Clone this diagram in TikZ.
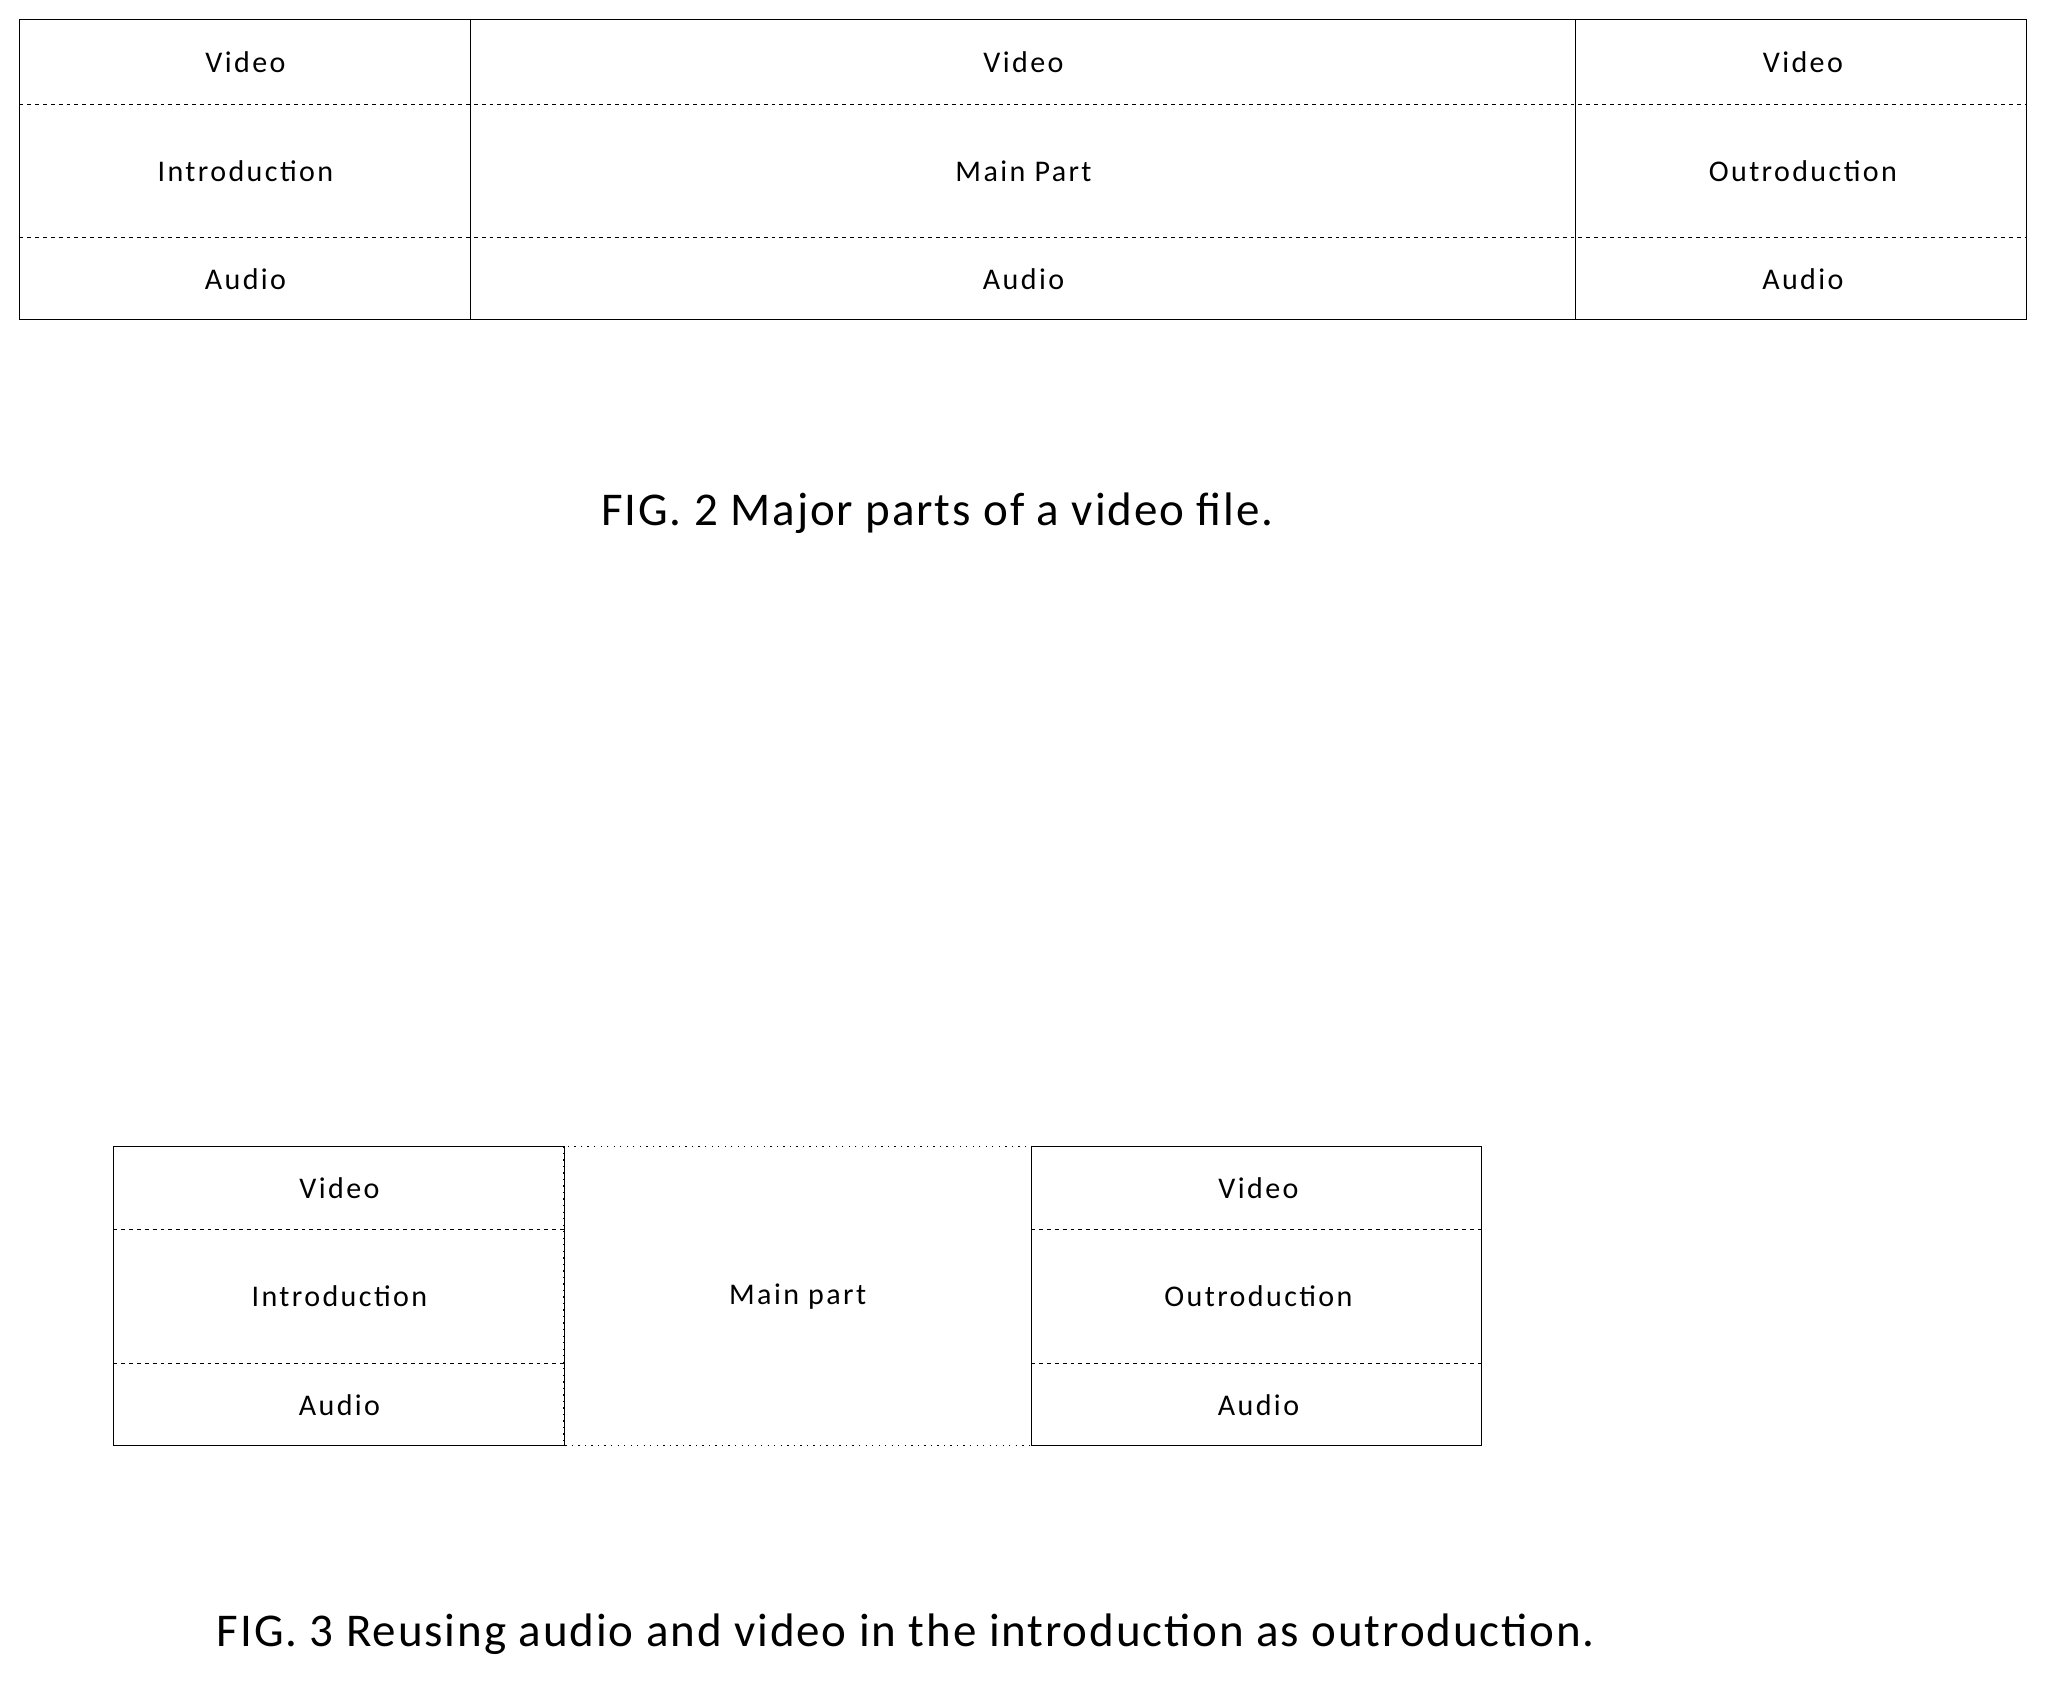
\documentclass[tikz,border=0pt]{standalone}
\usepackage{fontspec}
\setmainfont{Carlito}
\newfontfamily\labfont[LetterSpace=8]{Carlito}
\newfontfamily\capfont[LetterSpace=4]{Carlito}
\begin{document}
\begin{tikzpicture}[x=1pt,y=-1pt,
  frame/.style={draw,line width=0.7pt},
  sep/.style={draw,dashed,line width=0.6pt},
  dotf/.style={draw,line width=0.8pt,dash pattern=on 1pt off 4pt},
  lab/.style={font=\labfont\fontsize{23}{26}\selectfont,inner sep=0},
  figcap/.style={font=\capfont\fontsize{36}{40}\selectfont,inner sep=0}]
\useasboundingbox (0,0) rectangle (1568,1287);
% FIG 2 table
\draw[frame] (15,15) rectangle (1552,245);
\draw[frame] (360,15) -- (360,245);
\draw[frame] (1207,15) -- (1207,245);
\draw[sep] (15,80) -- (1552,80);
\draw[sep] (15,182) -- (1552,182);
\node[lab] (v1) at (188,48) {Video};
\node[lab] (i1) at (188,131) {Introduction};
\node[lab] (a1) at (188,214) {Audio};
\node[lab] (v2) at (784,48) {Video};
\node[lab] (m2) at (784,131) {Main Part};
\node[lab] (a2) at (784,214) {Audio};
\node[lab] (v3) at (1381,48) {Video};
\node[lab] (o3) at (1381,131) {Outroduction};
\node[lab] (a3) at (1381,214) {Audio};
\node[figcap] (c2) at (718,393) {FIG. 2 Major parts of a video file.};
% FIG 3
\draw[dotf] (432,878) rectangle (790,1107);
\draw[frame] (87,878) rectangle (432,1107);
\draw[sep] (87,942) -- (432,942);
\draw[sep] (87,1044) -- (432,1044);
\draw[frame] (790,878) rectangle (1135,1107);
\draw[sep] (790,942) -- (1135,942);
\draw[sep] (790,1044) -- (1135,1044);
\node[lab] (bv1) at (260,910) {Video};
\node[lab] (bi1) at (260,993) {Introduction};
\node[lab] (ba1) at (260,1076) {Audio};
\node[lab] (bm) at (611,993) {Main part};
\node[lab] (bv3) at (964,910) {Video};
\node[lab] (bo3) at (964,993) {Outroduction};
\node[lab] (ba3) at (964,1076) {Audio};
\node[figcap] (c3) at (694,1252) {FIG. 3 Reusing audio and video in the introduction as outroduction.};
\end{tikzpicture}
\end{document}
